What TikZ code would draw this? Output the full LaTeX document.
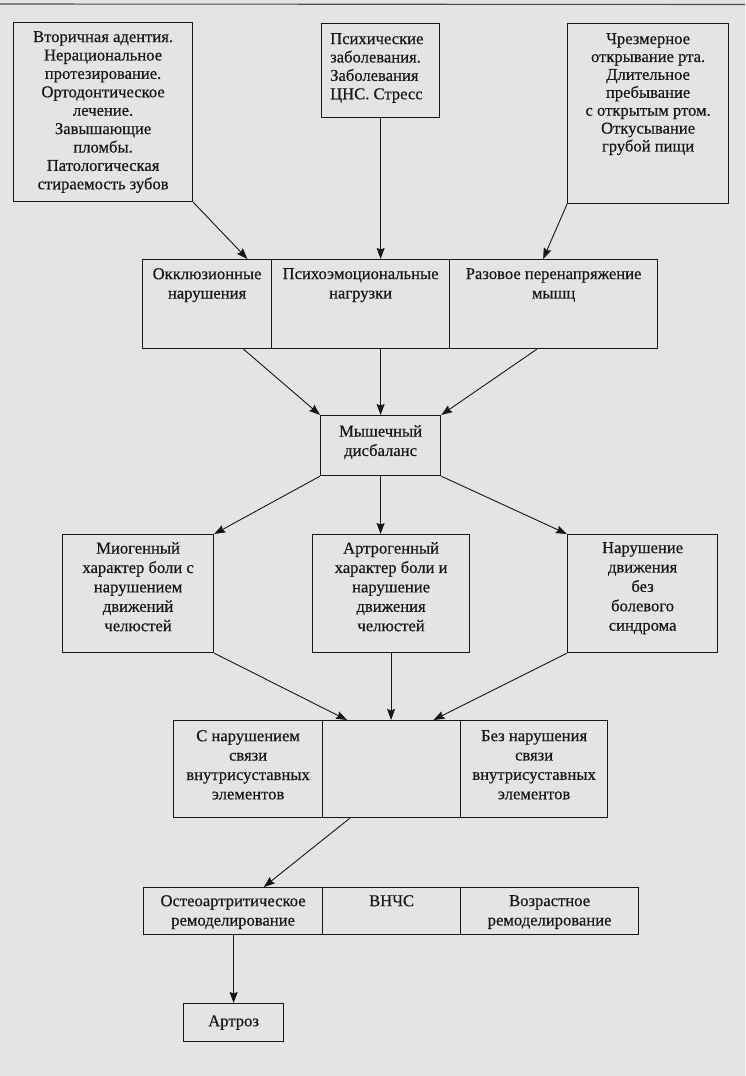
\documentclass[tikz,border=0pt]{standalone}
\usepackage{fontspec}
\setmainfont{Liberation Serif}[FakeBold=0.4]
\usetikzlibrary{arrows.meta,calc}
\definecolor{bg}{RGB}{228,228,228}
\definecolor{ink}{RGB}{22,22,22}
\newcommand{\fsA}{\fontsize{16.6}{18.4}\selectfont}
\newcommand{\fsB}{\fontsize{16.6}{19.4}\selectfont}
\begin{document}
\begin{tikzpicture}[x=1pt,y=-1pt,
  boxnode/.style={draw=ink, line width=1.2pt, inner sep=0pt, anchor=north west},
  txt/.style={text=ink, align=center, inner sep=0pt, anchor=north, font=\fsA},
  txtB/.style={txt, font=\fsB},
  arr/.style={draw=ink, line width=0.9pt, -{Stealth[length=11pt,width=8pt,inset=1.5pt]}}]
\fill[bg] (0,0) rectangle (745,1076);
\useasboundingbox (0,0) rectangle (745,1076);
\draw[gray!60!black, line width=1.1pt] (0,4) -- (745,4.5);
% top row
\node[boxnode, minimum width=179pt, minimum height=179pt] (b1) at (13,22) {};
\node[boxnode, minimum width=118pt, minimum height=94pt] (b2) at (321,23) {};
\node[boxnode, minimum width=161pt, minimum height=180pt] (b3) at (567,23) {};
\node[txt, yshift=-9pt] (tb1) at (b1.north) {Вторичная адентия.\\Нерациональное\\протезирование.\\Ортодонтическое\\лечение.\\Завышающие\\пломбы.\\Патологическая\\стираемость зубов};
\node[txt, align=left, anchor=north west, xshift=9pt, yshift=-10pt] (tb2) at (b2.north west) {Психические\\заболевания.\\Заболевания\\ЦНС. Стресс};
\node[txt, font=\fontsize{16.6}{17.9}\selectfont, yshift=-10pt] (tb3) at (b3.north) {Чрезмерное\\открывание рта.\\Длительное\\пребывание\\с открытым ртом.\\Откусывание\\грубой пищи};
% second row
\node[boxnode, minimum width=129pt, minimum height=89pt] (r2a) at (142,259) {};
\node[boxnode, minimum width=178pt, minimum height=89pt] (r2b) at (271,259) {};
\node[boxnode, minimum width=208pt, minimum height=89pt] (r2c) at (449,259) {};
\node[txtB, yshift=-9pt] (tr2a) at (r2a.north) {Окклюзионные\\нарушения};
\node[txtB, yshift=-9pt] (tr2b) at (r2b.north) {Психоэмоциональные\\нагрузки};
\node[txtB, yshift=-9pt] (tr2c) at (r2c.north) {Разовое перенапряжение\\мышц};
% muscle imbalance
\node[boxnode, minimum width=120pt, minimum height=60pt] (md) at (320,415) {};
\node[txtB, yshift=-10pt] (tmd) at (md.north) {Мышечный\\дисбаланс};
% third row
\node[boxnode, minimum width=151pt, minimum height=118pt] (m1) at (62,534) {};
\node[boxnode, minimum width=157pt, minimum height=118pt] (m2) at (312,534) {};
\node[boxnode, minimum width=150pt, minimum height=118pt] (m3) at (567,534) {};
\node[txtB, yshift=-8pt] (tm1) at (m1.north) {Миогенный\\характер боли с\\нарушением\\движений\\челюстей};
\node[txtB, yshift=-8pt] (tm2) at (m2.north) {Артрогенный\\характер боли и\\нарушение\\движения\\челюстей};
\node[txtB, yshift=-8pt] (tm3) at (m3.north) {Нарушение\\движения\\без\\болевого\\синдрома};
% fourth row
\node[boxnode, minimum width=149pt, minimum height=97pt] (s1) at (173,720) {};
\node[boxnode, minimum width=138pt, minimum height=97pt] (s2) at (322,720) {};
\node[boxnode, minimum width=147pt, minimum height=97pt] (s3) at (460,720) {};
\node[txtB, yshift=-10pt] (ts1) at (s1.north) {С нарушением\\связи\\внутрисуставных\\элементов};
\node[txtB, yshift=-10pt] (ts3) at (s3.north) {Без нарушения\\связи\\внутрисуставных\\элементов};
% fifth row
\node[boxnode, minimum width=179pt, minimum height=47pt] (o1) at (143,887) {};
\node[boxnode, minimum width=138pt, minimum height=47pt] (o2) at (322,887) {};
\node[boxnode, minimum width=178pt, minimum height=47pt] (o3) at (460,887) {};
\node[txtB, yshift=-8pt] (to1) at (o1.north) {Остеоартритическое\\ремоделирование};
\node[txtB, yshift=-8pt] (to2) at (o2.north) {ВНЧС};
\node[txtB, yshift=-8pt] (to3) at (o3.north) {Возрастное\\ремоделирование};
% arthrosis
\node[boxnode, minimum width=100pt, minimum height=38pt] (art) at (183,1003) {};
\node[txt, anchor=center] (tart) at (art.center) {Артроз};
% connectors
\draw[arr] (b1.south east) -- ($(r2a.north west)!0.81!(r2a.north east)$);
\draw[arr] (b2.south) -- (b2.south |- r2b.north);
\draw[arr] (b3.south west) -- ($(r2c.north west)!0.45!(r2c.north east)$);
\draw[arr] ($(r2a.south west)!0.78!(r2a.south east)$) -- (md.north west);
\draw[arr] (md.north |- r2b.south) -- (md.north);
\draw[arr] ($(r2c.south west)!0.42!(r2c.south east)$) -- (md.north east);
\draw[arr] (md.south west) -- (m1.north east);
\draw[arr] (md.south) -- (md.south |- m2.north);
\draw[arr] (md.south east) -- (m3.north west);
\draw[arr] (m1.south east) -- ($(s2.north west)!0.18!(s2.north east)$);
\draw[arr] (m2.south) -- (m2.south |- s2.north);
\draw[arr] (m3.south west) -- ($(s2.north west)!0.8!(s2.north east)$);
\draw[arr] ($(s2.south west)!0.2!(s2.south east)$) -- ($(o1.north west)!0.67!(o1.north east)$);
\draw[arr] (art.north |- o1.south) -- (art.north);
\end{tikzpicture}
\end{document}
